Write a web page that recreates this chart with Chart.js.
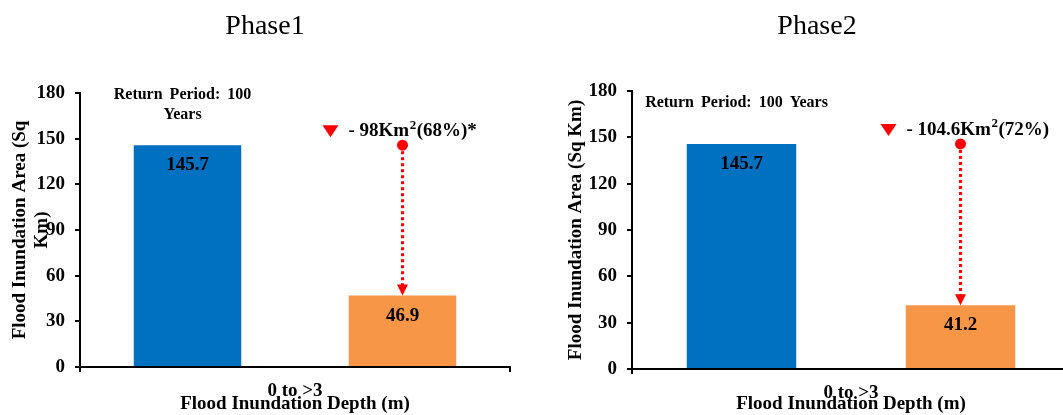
<!DOCTYPE html>
<html>
<head>
<meta charset="utf-8">
<title>Flood inundation area by phase</title>
<script src="https://cdn.jsdelivr.net/npm/chart.js@4/dist/chart.umd.min.js"></script>
<style>
    html, body {
        margin: 0;
        padding: 0;
        background: #fff;
        width: 1063px;
        height: 415px;
        overflow: hidden;
    }
    canvas {
        position: absolute;
        top: 0;
    }
    #phase1 { left: 0; }
    #phase2 { left: 560px; }
</style>
</head>
<body>
<canvas id="phase1" width="530" height="415"></canvas>
<canvas id="phase2" width="514" height="415"></canvas>
<script>
var phases = ['Phase1', 'Phase2'];
var categories = ['0 to >3'];
var areaBefore = [145.7, 145.7];
var areaAfter = [46.9, 41.2];
var changeLabels = ['- 98Km\u00b2(68%)*', '- 104.6Km\u00b2(72%)'];
var returnPeriodLines = [['Return Period: 100', 'Years'], ['Return Period: 100 Years']];
var yTicks = [0, 30, 60, 90, 120, 150, 180];
var yTitles = [['Flood Inundation Area (Sq', 'Km)'], 'Flood Inundation Area (Sq Km)'];

var SERIF = "'Liberation Serif', 'Times New Roman', serif";
var BLUE = '#0070C0';
var ORANGE = '#F79646';
var RED = '#FF0000';

// text with a raised "2" in place of the superscript sign
function drawWithSuperscript(ctx, text, x, y) {
    var parts = text.split('\u00b2');
    ctx.font = 'bold 19px ' + SERIF;
    ctx.fillText(parts[0], x, y);
    x += ctx.measureText(parts[0]).width;
    if (parts.length > 1) {
        ctx.font = 'bold 13px ' + SERIF;
        ctx.fillText('2', x + 0.5, y - 6);
        x += ctx.measureText('2').width + 1;
        ctx.font = 'bold 19px ' + SERIF;
        ctx.fillText(parts[1], x, y);
    }
}

// panel title, values inside bars, drop arrow and the notes above the bars
var phaseNotes = {
    id: 'phaseNotes',
    afterDraw: function (chart, args, opts) {
        var ctx = chart.ctx;
        var area = chart.chartArea;
        ctx.save();
        ctx.fillStyle = '#000';
        ctx.textAlign = 'center';
        ctx.textBaseline = 'middle';
        ctx.font = 'normal 28px ' + SERIF;
        ctx.fillText(opts.title, chart.width / 2, 27);
        ctx.restore();

        var yScale = chart.scales.y;
        var first = chart.getDatasetMeta(0).data[0];
        var second = chart.getDatasetMeta(1).data[0];
        var startY = yScale.getPixelForValue(chart.data.datasets[0].data[0]);
        var endY = second.y;
        var x = second.x;

        ctx.save();
        ctx.fillStyle = '#000';
        ctx.textAlign = 'center';
        ctx.textBaseline = 'middle';
        ctx.font = 'bold 19px ' + SERIF;
        [first, second].forEach(function (bar, k) {
            ctx.fillText(chart.data.datasets[k].data[0].toFixed(1), bar.x, bar.y + 20);
        });

        // dotted drop from the first value down to the second bar
        ctx.strokeStyle = RED;
        ctx.lineWidth = 3;
        ctx.setLineDash([3, 3]);
        ctx.beginPath();
        ctx.moveTo(x, startY);
        ctx.lineTo(x, endY - 10);
        ctx.stroke();
        ctx.setLineDash([]);
        ctx.fillStyle = RED;
        ctx.beginPath();
        ctx.moveTo(x - 5.5, endY - 11);
        ctx.lineTo(x + 5.5, endY - 11);
        ctx.lineTo(x, endY);
        ctx.closePath();
        ctx.fill();
        ctx.beginPath();
        ctx.arc(x, startY, 5.5, 0, Math.PI * 2);
        ctx.fill();

        // change marker and text
        var ty = startY - 14;
        var tx = x - 72;
        ctx.beginPath();
        ctx.moveTo(tx - 8, ty - 6);
        ctx.lineTo(tx + 8, ty - 6);
        ctx.lineTo(tx, ty + 6);
        ctx.closePath();
        ctx.fill();
        ctx.fillStyle = '#000';
        ctx.textAlign = 'left';
        drawWithSuperscript(ctx, opts.change, x - 54, ty);

        // return period note
        ctx.textAlign = 'center';
        ctx.font = 'bold 16px ' + SERIF;
        ctx.wordSpacing = '3px';
        var lines = opts.period;
        var lineH = 20;
        var y0 = area.top + 12 - (lines.length - 1) * lineH / 2;
        lines.forEach(function (line, k) {
            ctx.fillText(line, first.x - 5, y0 + k * lineH);
        });
        ctx.restore();
    }
};

function makePhase(i, canvasId, layout) {
    var axisFont = {family: SERIF, size: 19, weight: 'bold'};
    var titleFont = {family: SERIF, size: 19, weight: 'bold', lineHeight: '22px'};
    return new Chart(document.getElementById(canvasId), {
        type: 'bar',
        data: {
            labels: categories,
            datasets: [
                {
                    label: 'Before',
                    data: [areaBefore[i]],
                    backgroundColor: BLUE,
                    barPercentage: 0.5,
                    categoryPercentage: 1.0
                },
                {
                    label: 'After',
                    data: [areaAfter[i]],
                    backgroundColor: ORANGE,
                    barPercentage: 0.5,
                    categoryPercentage: 1.0
                }
            ]
        },
        plugins: [phaseNotes],
        options: {
            responsive: false,
            animation: false,
            layout: {
                padding: {top: layout.top, right: layout.right, left: 0, bottom: 0}
            },
            plugins: {
                legend: {display: false},
                title: {display: false},
                tooltip: {enabled: false},
                phaseNotes: {
                    title: phases[i],
                    change: changeLabels[i],
                    period: returnPeriodLines[i]
                }
            },
            scales: {
                x: {
                    offset: true,
                    grid: {
                        display: true,
                        offset: true,
                        drawOnChartArea: false,
                        tickLength: 5,
                        color: '#000',
                        lineWidth: 2
                    },
                    border: {display: true, color: '#000', width: 2},
                    ticks: {color: '#000', font: axisFont, padding: 8},
                    title: {
                        display: true,
                        text: 'Flood Inundation Depth (m)',
                        color: '#000',
                        font: titleFont,
                        padding: {top: 0, bottom: 0}
                    },
                    afterFit: function (scale) {
                        scale.height = layout.bottom;
                    }
                },
                y: {
                    min: 0,
                    max: 180,
                    afterBuildTicks: function (scale) {
                        scale.ticks = yTicks.map(function (v) {
                            return {value: v};
                        });
                    },
                    grid: {
                        display: true,
                        drawOnChartArea: false,
                        tickLength: 5,
                        color: '#000',
                        lineWidth: 2
                    },
                    border: {display: true, color: '#000', width: 2},
                    ticks: {color: '#000', font: axisFont, padding: 10},
                    title: {
                        display: true,
                        text: yTitles[i],
                        color: '#000',
                        font: titleFont,
                        padding: {top: layout.titlePad, bottom: 0}
                    },
                    afterFit: function (scale) {
                        scale.width = layout.left;
                    }
                }
            }
        }
    });
}

makePhase(0, 'phase1', {top: 93, right: 20, bottom: 48, left: 80, titlePad: 9});
makePhase(1, 'phase2', {top: 91, right: 4, bottom: 46, left: 72, titlePad: 5});
</script>
</body>
</html>
